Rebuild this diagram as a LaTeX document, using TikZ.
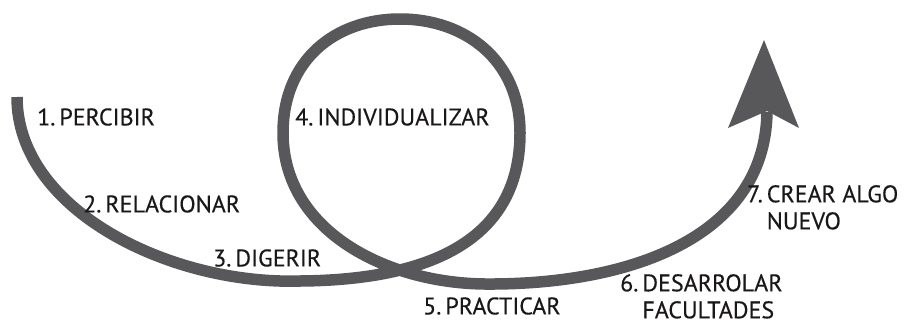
\documentclass[tikz,border=0pt]{standalone}
\usepackage{fontspec}
\setmainfont[FakeBold=0.35]{PT Sans}
\definecolor{pathgray}{HTML}{58585B}
\definecolor{txt}{HTML}{1A1718}
\begin{document}
\begin{tikzpicture}[x=1pt,y=-1pt,
  lbl/.style={anchor=west,inner sep=0pt,text=txt,font=\fontsize{24}{27}\selectfont,align=left},
  road/.style={draw=pathgray,line width=11.5pt,line cap=butt}]
\useasboundingbox (0,0) rectangle (909,327);
% main curve
\draw[road] (17,97) .. controls (17,210) and (170,285) .. (300,281)
  .. controls (430,280) and (520,240) .. (520,133)
  .. controls (520,60) and (465,19) .. (400,19)
  .. controls (335,19) and (283,60) .. (283,133)
  .. controls (283,230) and (385,283) .. (485,284)
  .. controls (625,285) and (765,240) .. (767,112);
% arrowhead
\fill[pathgray] (764,40) -- (799,128) -- (767,111) -- (728,128) -- cycle;
% labels
\node[lbl] (l1) at (37,117) {1.\,PERCIBIR};
\node[lbl] (l2) at (83,204) {2.\,RELACIONAR};
\node[lbl] (l3) at (213,258) {3.\,DIGERIR};
\node[lbl] (l4) at (295,117) {4.\,INDIVIDUALIZAR};
\node[lbl] (l5) at (423,306) {5.\,PRACTICAR};
\node[lbl,anchor=north west] (l6) at (620,274) {6.\,DESARROLAR\\\phantom{6.\,}FACULTADES};
\node[lbl,anchor=north west] (l7) at (747,185) {7.\,CREAR ALGO\\\phantom{7.\,}NUEVO};
\end{tikzpicture}
\end{document}
